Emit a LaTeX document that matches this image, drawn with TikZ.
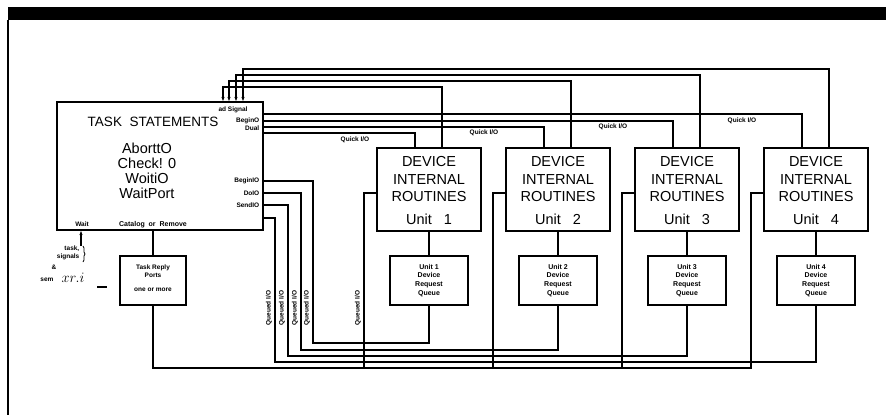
\documentclass[tikz,border=0pt]{standalone}
\usepackage{fontspec}
\setmainfont{Liberation Sans}
\usetikzlibrary{arrows.meta,positioning,decorations.pathreplacing}

\begin{document}
\begin{tikzpicture}[
  x=1pt,y=-1pt,
  >={Stealth[length=4pt,width=3.2pt]},
  wire/.style={line width=1.1pt},
  box/.style={rectangle,draw,line width=2.2pt,inner sep=0pt},
  big/.style={font=\fontsize{14.5}{17.5}\selectfont,align=center,inner sep=0pt},
  lbl/.style={font=\fontsize{6.5}{7.5}\selectfont\bfseries,inner sep=0.5pt},
  qlbl/.style={lbl,rotate=90}]

\useasboundingbox (0,0) rectangle (886,415);

% scan edge
\fill (8,7) rectangle (886,20);
\draw[line width=1.2pt] (8,20) -- (8,415);

% task statements
\node[box,minimum width=206,minimum height=128] (task) at (160,166) {};
\node[big,font=\fontsize{13.5}{15}\selectfont] (title) at (153,122) {TASK\ \ STATEMENTS};
\node[big,font=\fontsize{14.5}{15}\selectfont] (calls) at (147,171) {AborttO\\Check! 0\\WoitiO\\WaitPort};
\node[lbl] (sig) at (233,110) {ad\ Signal};
\node[lbl,anchor=east] (bgo) at (260,121) {BeginO};
\node[lbl,anchor=east] (dual) at (260,128) {Dual};
\node[lbl,anchor=east] (bgio) at (260,181) {BeginIO};
\node[lbl,anchor=east] (doio) at (260,193) {DoIO};
\node[lbl,anchor=east] (sdio) at (260,205) {SendIO};
\node[lbl] (wait) at (82,224) {Wait};
\node[lbl,font=\fontsize{7}{8}\selectfont\bfseries] (catl) at (153,225) {Catalog\ \ or\ \ Remove};

% device routines and request queues
\foreach \i/\x in {1/429,2/558,3/687,4/816}{
  \node[box,line width=2pt,minimum width=104,minimum height=83] (dev\i) at (\x,189.5) {};
  \node[big] (name\i) at (\x,179.5) {DEVICE\\INTERNAL\\ROUTINES};
  \node[big] (unit\i) at (\x,219) {Unit\ \ \ \i};
  \node[box,line width=1.8pt,minimum width=78,minimum height=49] (queue\i) at (\x,280.5) {};
  \node[lbl,align=center,font=\fontsize{7}{8.8}\selectfont\bfseries] (qtxt\i) at (queue\i) {Unit \i\\Device\\Request\\Queue};
  \draw[line width=1.8pt] (dev\i) -- (queue\i);
}

% signals back into the task
\foreach \i/\x/\y in {1/223/87,2/229/81,3/236/75,4/243/69}
  \draw[wire,->] ([xshift=13pt]dev\i.north) |- (\x,\y) -- (task.north -| \x,0);

% quick I/O
\foreach \i/\y/\lx/\ly in {4/114/742/121,3/121/613/127,2/127/484/133,1/133/355/140}{
  \draw[wire] (task.east |- 0,\y) -| ([xshift=-14pt]dev\i.north);
  \node[lbl] (quick\i) at (\lx,\ly) {Quick I/O};
}

% queued I/O
\foreach \i/\y/\x/\b in {1/181/313/343,2/193/301/350,3/205/288/356,4/218/275/362}{
  \draw[wire] (task.east |- 0,\y) -| (\x,\b) -| (queue\i.south);
  \node[qlbl] (qio\i) at ({\x-6},308) {Queued I/O};
}

% task reply ports
\node[box,minimum width=66,minimum height=49] (trp) at (153,280.5) {};
\node[lbl,align=center,font=\fontsize{6.5}{8}\selectfont\bfseries] (trptxt) at (153,271) {Task Reply\\Ports};
\node[lbl] (trpmore) at (153,290) {one or more};
\draw[wire] (trp.north) -- (trp.north |- task.south);
\coordinate (trpbus) at (153,368);
\foreach \i in {1,...,4}
  \draw[wire] ([yshift=-3.5pt]dev\i.west) -- ++(-12,0) |- (trpbus) -- (trp.south);
\node[qlbl] (qio5) at (358,308) {Queued I/O};

% wait input
\coordinate (waitin) at (81,246);
\draw[wire,->] (waitin) -- (waitin |- task.south);
\draw[decorate,decoration={brace,amplitude=2pt},line width=0.8pt] (83,246) -- (83,262);
\node[lbl,anchor=east] (tsk) at (80,249) {task,};
\node[lbl,anchor=east] (sgn) at (80,257) {signals};
\node[lbl] (amp) at (54,267) {\&};
\node[lbl] (sem) at (47,280) {sem};
\node[inner sep=0pt,font=\fontsize{15}{15}\selectfont] (xri) at (73,278) {$xr.i$};
\draw[wire] (97,287) -- (107,287);
\end{tikzpicture}
\end{document}
